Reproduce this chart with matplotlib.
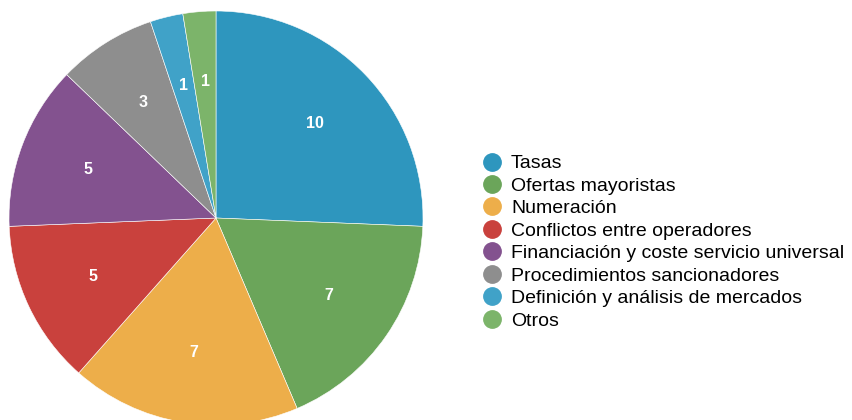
import matplotlib.pyplot as plt
from matplotlib.lines import Line2D

plt.rcParams['font.family'] = ['Liberation Sans', 'DejaVu Sans']

categories = ['Tasas', 'Ofertas mayoristas', 'Numeración', 'Conflictos entre operadores',
              'Financiación y coste servicio universal', 'Procedimientos sancionadores',
              'Definición y análisis de mercados', 'Otros']
values = [10, 7, 7, 5, 5, 3, 1, 1]
colors = ['#2E96BE', '#6BA55A', '#EDAE4A', '#C9413D', '#83528F', '#8E8E8E', '#40A2C8', '#7CB46A']

fig = plt.figure(figsize=(8.52, 4.2), dpi=100)
ax = fig.add_axes([9 / 852, -5 / 420, 414 / 852, 414 / 420])
wedges, texts = ax.pie(values, colors=colors, startangle=90, counterclock=False, radius=1,
                       labels=[str(v) for v in values], labeldistance=0.66,
                       wedgeprops=dict(linewidth=0.4, edgecolor='white'),
                       textprops=dict(color='white', fontsize=11.5, fontweight='bold'))
for t in texts:
    t.set_ha('center')
    t.set_va('center')
ax.set_xlim(-1, 1)
ax.set_ylim(-1, 1)
ax.set_aspect('equal')
ax.axis('off')

handles = [Line2D([], [], marker='o', linestyle='', markersize=12.5, markerfacecolor=c,
                  markeredgecolor=c) for c in colors]
fig.legend(handles, categories, loc='upper left', bbox_to_anchor=(473 / 852, 1 - 145 / 420),
           frameon=False, fontsize=14, handletextpad=0.45, labelspacing=0.25,
           borderpad=0, handlelength=1.0)

fig.savefig('out.png', dpi=100)
